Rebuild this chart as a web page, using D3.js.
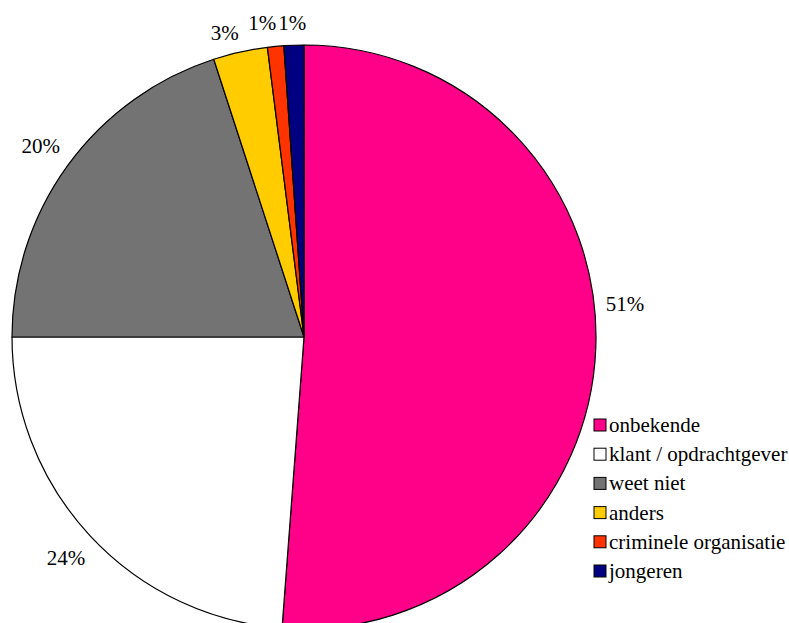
<!DOCTYPE html>
<html>
<head>
<meta charset="utf-8">
<script src="https://cdn.jsdelivr.net/npm/d3@7/dist/d3.min.js"></script>
<style>
  html, body { margin: 0; padding: 0; background: #fff; }
  svg { display: block; }
</style>
</head>
<body>
<svg id="chart" width="789" height="623"></svg>
<script>
// Categories and shares (percent)
const categories = ["onbekende", "klant / opdrachtgever", "weet niet", "anders", "criminele organisatie", "jongeren"];
const values = [51.2, 23.8, 20.0, 3.0, 0.9, 1.1];
const labels = ["51%", "24%", "20%", "3%", "1%", "1%"];
const colors = ["#FF0088", "#FFFFFF", "#737373", "#FFCC00", "#FF3300", "#000080"];

const FONT = "'Liberation Serif'";
const FONT_SIZE = 21;
const cx = 304, cy = 337, R = 292;

const svg = d3.select("#chart");

const pie = d3.pie().sort(null).value(d => d.value);
const arcs = pie(categories.map((c, i) => ({ cat: c, value: values[i], label: labels[i], color: colors[i] })));

const arc = d3.arc().innerRadius(0).outerRadius(R);

const g = svg.append("g").attr("transform", `translate(${cx},${cy})`);

g.selectAll("path.slice")
  .data(arcs)
  .join("path")
  .attr("class", "slice")
  .attr("d", arc)
  .attr("fill", d => d.data.color)
  .attr("stroke", "#000")
  .attr("stroke-width", 1.2)
  .attr("stroke-linejoin", "round");

// Percentage labels sit outside the rim; the gap grows with the label's
// extent along the slice direction (wider text sideways, shorter text on top).
const gap = 18, halfW = 16, halfH = 4;
function labelPos(d) {
  const a = (d.startAngle + d.endAngle) / 2;
  const ux = Math.sin(a), uy = -Math.cos(a);
  const r = R + gap + Math.abs(ux) * halfW + Math.abs(uy) * halfH;
  return [ux * r, uy * r];
}

// Manual nudges: largest slice's label lifted above the legend, the
// crowded labels at the top spread apart so they do not collide
const labelShift = {
  "onbekende": [-5, -45],
  "anders": [-10, 6],
  "criminele organisatie": [-11, 0],
  "jongeren": [-1, 0]
};

g.selectAll("text.pct")
  .data(arcs)
  .join("text")
  .attr("class", "pct")
  .attr("transform", d => {
    const [x, y] = labelPos(d);
    const s = labelShift[d.data.cat] || [0, 0];
    return `translate(${x + s[0]},${y + s[1]})`;
  })
  .attr("text-anchor", "middle")
  .attr("dominant-baseline", "central")
  .style("font-family", FONT)
  .style("font-size", FONT_SIZE + "px")
  .text(d => d.data.label);

// Legend
const legend = svg.append("g").attr("transform", "translate(594,419)");
const rowY = d3.scalePoint().domain(categories).range([0, 146]);

const item = legend.selectAll("g.item")
  .data(categories)
  .join("g")
  .attr("class", "item")
  .attr("transform", d => `translate(0,${rowY(d)})`);

item.append("rect")
  .attr("width", 12)
  .attr("height", 12)
  .attr("fill", (d, i) => colors[i])
  .attr("stroke", "#000")
  .attr("stroke-width", 1);

item.append("text")
  .attr("x", 15)
  .attr("y", 6)
  .attr("dominant-baseline", "central")
  .style("font-family", FONT)
  .style("font-size", FONT_SIZE + "px")
  .text(d => d);
</script>
</body>
</html>
